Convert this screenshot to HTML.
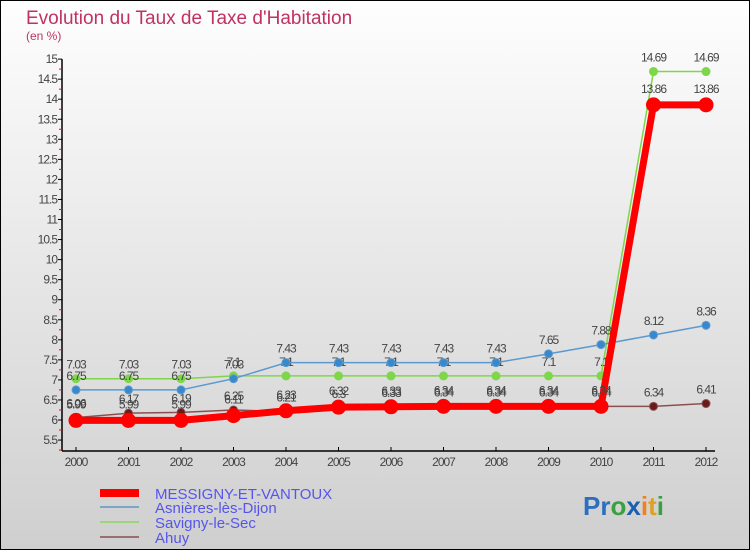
<!DOCTYPE html>
<html><head><meta charset="utf-8"><style>
body{margin:0}
#c{width:750px;height:550px;position:relative;overflow:hidden;box-sizing:border-box;border:1px solid #000;background:linear-gradient(#fefefe,#cfcfcf);font-family:"Liberation Sans",sans-serif}
</style></head><body>
<div id="c">
<svg id="s" width="750" height="550" style="position:absolute;left:-1px;top:-1px">
<text x="26" y="24" font-size="19" fill="#c0325f">Evolution du Taux de Taxe d'Habitation</text>
<text x="26" y="40" font-size="12" fill="#c0325f">(en %)</text>
<g id="axes"></g><g id="series"></g>
<g>
<rect x="100" y="489" width="39" height="8" fill="#f00"/>
<text x="155" y="499" font-size="15" fill="#5555ee">MESSIGNY-ET-VANTOUX</text>
<line x1="100" y1="507" x2="139" y2="507" stroke="#7aa6c8" stroke-width="2"/>
<text x="155" y="513" font-size="15" fill="#5555ee">Asnières-lès-Dijon</text>
<line x1="100" y1="522" x2="139" y2="522" stroke="#9ed47a" stroke-width="2"/>
<text x="155" y="528" font-size="15" fill="#5555ee">Savigny-le-Sec</text>
<line x1="100" y1="537" x2="139" y2="537" stroke="#987070" stroke-width="2"/>
<text x="155" y="543" font-size="15" fill="#5555ee">Ahuy</text>
</g>
<text x="583" y="515" font-size="26" font-weight="bold"><tspan fill="#2a6fc0">Pr</tspan><tspan fill="#3aa040">o</tspan><tspan fill="#1a5fb0">x</tspan><tspan fill="#f08020">i</tspan><tspan fill="#e0a020">t</tspan><tspan fill="#3aa040">i</tspan></text>
</svg>
<script>
const years=[2000,2001,2002,2003,2004,2005,2006,2007,2008,2009,2010,2011,2012];
const yTicks=[5.5,6,6.5,7,7.5,8,8.5,9,9.5,10,10.5,11,11.5,12,12.5,13,13.5,14,14.5,15];
const messigny=[5.99,5.99,5.99,6.11,6.23,6.32,6.33,6.34,6.34,6.34,6.34,13.86,13.86];
const asnieres=[6.75,6.75,6.75,7.03,7.43,7.43,7.43,7.43,7.43,7.65,7.88,8.12,8.36];
const savigny=[7.03,7.03,7.03,7.1,7.1,7.1,7.1,7.1,7.1,7.1,7.1,14.69,14.69];
const ahuy=[6.06,6.17,6.19,6.25,6.21,6.3,6.33,6.34,6.34,6.34,6.34,6.34,6.41];
const NS="http://www.w3.org/2000/svg";
const X=i=>76+i*(706-76)/12;
const Y=v=>420-(v-6)*40.1;
function mk(t,a,p){const e=document.createElementNS(NS,t);for(const k in a)e.setAttribute(k,a[k]);p.appendChild(e);return e;}
const ax=document.getElementById('axes');
let yl=mk('line',{x1:62,y1:Y(15),x2:62,y2:451,stroke:'#000','stroke-width':1.5},ax);


let xl=mk('line',{x1:62,y1:451,x2:715,y2:451,stroke:'#000','stroke-width':1.5},ax);


yTicks.forEach(v=>{const y=Y(v);
mk('line',{x1:58,y1:y,x2:62,y2:y,stroke:'#000'},ax);
mk('line',{x1:59,y1:y+10,x2:62,y2:y+10,stroke:'#f00'},ax);
const t=mk('text',{x:57,y:y+4,'font-size':12,'text-anchor':'end',fill:'#444','letter-spacing':'-1'},ax);t.textContent=String(v);

});
years.forEach((yr,i)=>{const x=X(i);
mk('line',{x1:x,y1:447,x2:x,y2:451,stroke:'#000'},ax);
const t=mk('text',{x:x,y:466,'font-size':12,'text-anchor':'middle',fill:'#444','letter-spacing':'-1'},ax);t.textContent=yr;

});
const sg=document.getElementById('series');
function draw(name,vals,col,w,r,dot,labelDy){
const g=mk('g',{},sg);


mk('polyline',{points:vals.map((v,i)=>X(i)+','+Y(v)).join(' '),fill:'none',stroke:col,'stroke-width':w,'stroke-linejoin':'round'},g);
vals.forEach((v,i)=>{const c=mk('circle',{cx:X(i),cy:Y(v),r:r,fill:dot,stroke:col,'stroke-width':1},g);


const t=mk('text',{x:X(i),y:Y(v)+labelDy,'font-size':12,'text-anchor':'middle',fill:'#444','letter-spacing':'-1'},g);t.textContent=String(v);

});}
draw('ahuy',ahuy,'#8a5050',1.5,4,'#6a1a1a',-10);
draw('savigny',savigny,'#7ed64a',1.5,4,'#7ed64a',-10);
draw('asnieres',asnieres,'#5a9ad0',1.5,4,'#3a88cc',-10);
draw('messigny',messigny,'#f00',7,7,'#f00',-12);
</script>
</div>
</body></html>
